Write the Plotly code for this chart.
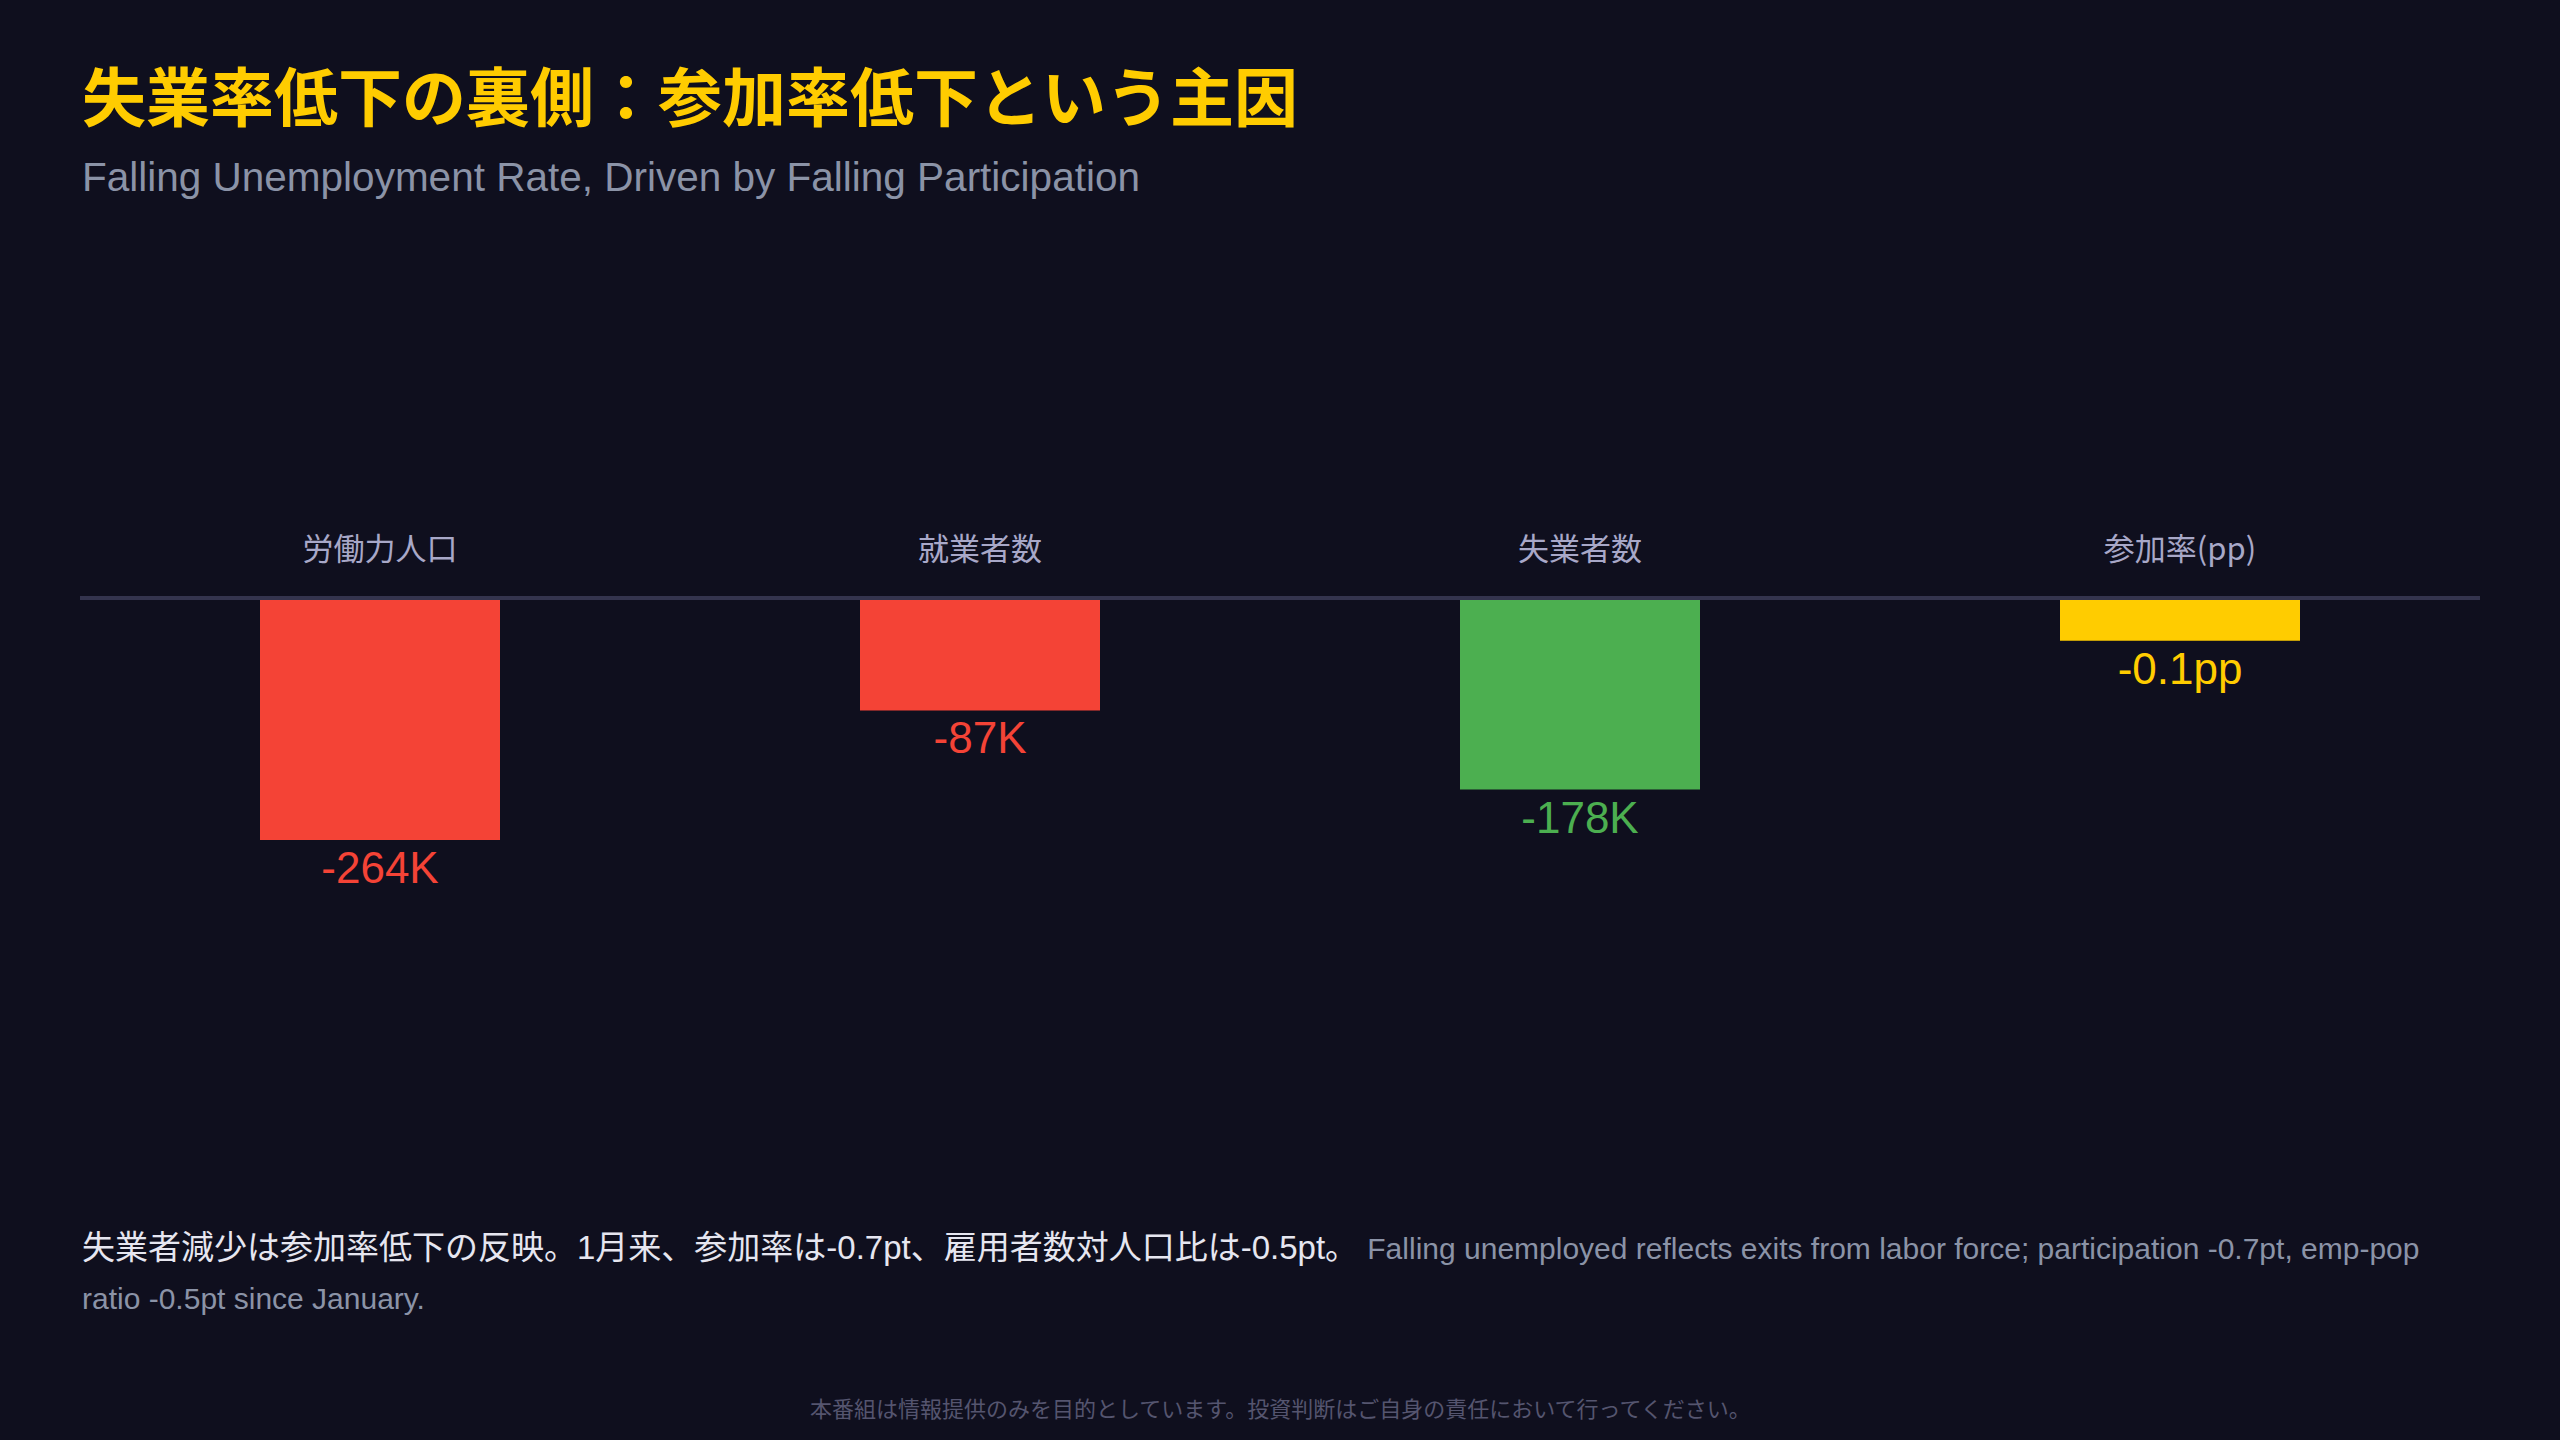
import plotly.graph_objects as go

# Change since January (labels) and bar lengths as drawn (relative units)
categories = ['労働力人口', '就業者数', '失業者数', '参加率(pp)']
change_labels = ['-264K', '-87K', '-178K', '-0.1pp']
bar_len = [-1.00, -0.46, -0.79, -0.17]
bar_colors = ['#F44336', '#F44336', '#4CAF50', '#FFCC00']

title = '失業率低下の裏側：参加率低下という主因'
subtitle = 'Falling Unemployment Rate, Driven by Falling Participation'
note_jp = '失業者減少は参加率低下の反映。1月来、参加率は-0.7pt、雇用者数対人口比は-0.5pt。'
note_en_1 = 'Falling unemployed reflects exits from labor force; participation -0.7pt, emp-pop'
note_en_2 = 'ratio -0.5pt since January.'
footer = '本番組は情報提供のみを目的としています。投資判断はご自身の責任において行ってください。'

BG = '#0f0f1e'
CJK = 'Noto Sans CJK JP'
LATIN = 'Liberation Sans, Noto Sans CJK JP'
W, H = 2560, 1440
M_T, M_B = 600, 300


def py(ypx):
    # pixel row -> paper coordinate
    return (H - M_B - ypx) / (H - M_T - M_B)


fig = go.Figure()

fig.add_trace(go.Bar(
    x=categories,
    y=bar_len,
    width=0.4,
    marker=dict(color=bar_colors, line=dict(width=0)),
    text=change_labels,
    textposition='outside',
    textfont=dict(size=44, color=bar_colors, family=LATIN),
    cliponaxis=False,
    hoverinfo='skip',
))

fig.update_layout(
    width=W,
    height=H,
    paper_bgcolor=BG,
    plot_bgcolor=BG,
    font=dict(family=CJK, color='#e6e6f0'),
    margin=dict(l=80, r=80, t=M_T, b=M_B, pad=0),
    showlegend=False,
    xaxis=dict(
        side='top',
        showline=True,
        linecolor='#34344e',
        linewidth=4,
        ticks='outside',
        ticklen=24,
        tickcolor=BG,
        tickfont=dict(size=31, color='#a8a8c8', family=CJK),
        showgrid=False,
        zeroline=False,
    ),
    yaxis=dict(
        range=[-2.25, 0],
        visible=False,
        showgrid=False,
        zeroline=False,
    ),
)

fig.add_annotation(
    text=f'<b>{title}</b>', x=0, y=py(93), xref='paper', yref='paper',
    xanchor='left', yanchor='middle', showarrow=False,
    font=dict(size=64, color='#FFCC00', family=CJK),
)
fig.add_annotation(
    text=subtitle, x=0, y=py(177), xref='paper', yref='paper',
    xanchor='left', yanchor='middle', showarrow=False,
    font=dict(size=40.5, color='#8b93a7', family=LATIN),
)
fig.add_annotation(
    text=f'{note_jp} <span style="font-size:30px;color:#8b93a7">{note_en_1}</span>',
    x=0, y=py(1247), xref='paper', yref='paper',
    xanchor='left', yanchor='middle', showarrow=False, align='left',
    font=dict(size=33, color='#e6e6f0', family=LATIN),
)
fig.add_annotation(
    text=note_en_2, x=0, y=py(1298), xref='paper', yref='paper',
    xanchor='left', yanchor='middle', showarrow=False,
    font=dict(size=30, color='#8b93a7', family=LATIN),
)
fig.add_annotation(
    text=footer, x=0.5, y=py(1407), xref='paper', yref='paper',
    xanchor='center', yanchor='middle', showarrow=False,
    font=dict(size=22, color='#55556f', family=CJK),
)

fig.write_html(
    'out.html',
    config={'displayModeBar': False},
    post_script="document.body.style.margin='0';document.body.style.overflow='hidden';",
)
